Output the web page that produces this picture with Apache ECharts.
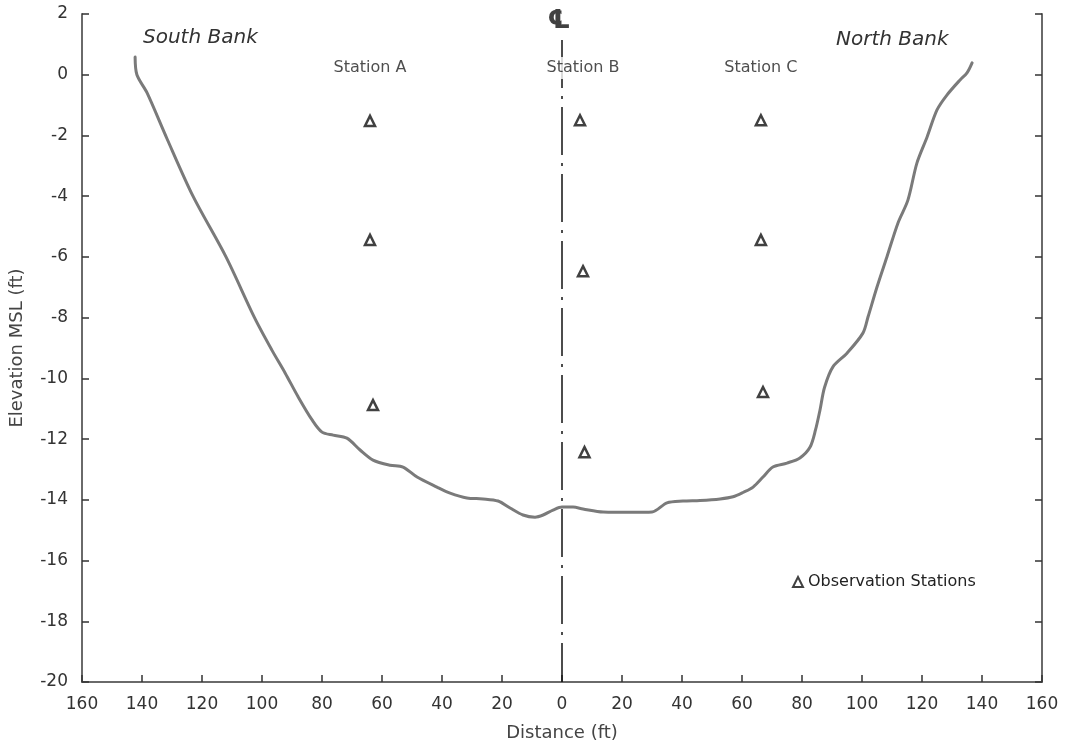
<!DOCTYPE html>
<html>
<head>
<meta charset="utf-8">
<script src="https://cdn.jsdelivr.net/npm/echarts@6/dist/echarts.min.js"></script>
<style>
html,body{margin:0;padding:0;background:#fff;}
#chart{width:1065px;height:749px;}
</style>
</head>
<body>
<div id="chart"></div>
<script>
// Channel cross-section profile (distance: negative = south of centerline)
const profileX = [-142.3,-141.7,-138.3,-131.7,-123,-112,-102.5,-96.7,-92.3,-88,-83.3,-80,-76.3,-71.7,-67.3,-63,-57.3,-53,-48.3,-41.7,-37.3,-31.7,-26.3,-21.3,-17.3,-13,-9,-6.3,-3,0,3.7,7,13.7,23.7,30,35,40.3,46,52.7,57,60.5,63.7,67,70.3,75,79.3,82.7,84.5,86,87.5,90.3,95,100.3,102,105,108.3,112,115.3,118.3,121.7,125,128.3,132.7,135,136.7];
const profileY = [0.58,0.0,-0.6,-2.1,-4.0,-6.0,-8.0,-9.07,-9.82,-10.6,-11.37,-11.77,-11.87,-11.97,-12.36,-12.69,-12.86,-12.92,-13.25,-13.58,-13.78,-13.94,-13.97,-14.04,-14.27,-14.5,-14.57,-14.5,-14.34,-14.24,-14.24,-14.3,-14.4,-14.41,-14.4,-14.1,-14.04,-14.02,-13.97,-13.9,-13.75,-13.58,-13.25,-12.92,-12.79,-12.62,-12.26,-11.7,-11.04,-10.3,-9.62,-9.17,-8.51,-7.98,-6.99,-6.0,-4.88,-4.13,-2.91,-2.05,-1.16,-0.67,-0.17,0.06,0.39];

// Observation stations
const stationNames = ['Station A','Station B','Station C'];
const stationLabelX = [-64, 7, 66.3];
const stationLabelY = [0.22, 0.22, 0.22];
const obsX = [-64,-64,-63, 6,7,7.5, 66.3,66.3,67];
const obsY = [-1.52,-5.44,-10.88, -1.5,-6.47,-12.43, -1.5,-5.44,-10.45];

// Centerline
const centerX = [0, 0];
const centerY = [1.14, -20];

const xTicks = {min:-160, max:160, interval:20};
const yTicks = {min:-20, max:2, interval:2};

const chart = echarts.init(document.getElementById('chart'), null, {renderer:'canvas'});
const FONT = 'DejaVu Sans';
const axisCol = '#6a6a6a';

const option = {
  backgroundColor:'#ffffff',
  animation:false,
  grid:{left:81, right:23, top:14, bottom:67, containLabel:false},
  legend:{
    data:['Observation Stations'],
    left:787, top:569,
    icon:'triangle',
    itemWidth:10, itemHeight:10, itemGap:10,
    textStyle:{fontFamily:FONT, fontSize:16, color:'#222'}
  },
  xAxis:{
    type:'value', min:xTicks.min, max:xTicks.max, interval:xTicks.interval,
    name:'Distance (ft)', nameLocation:'middle', nameGap:42,
    nameTextStyle:{fontFamily:FONT, fontSize:18, color:'#444'},
    axisLine:{show:true, onZero:false, lineStyle:{color:axisCol, width:2}},
    axisTick:{show:true, inside:true, length:7, lineStyle:{color:'#333', width:1.5}},
    axisLabel:{fontFamily:FONT, fontSize:17, color:'#333', margin:14,
      formatter:v=>String(Math.abs(v))},
    splitLine:{show:false}
  },
  yAxis:[{
    type:'value', min:yTicks.min, max:yTicks.max, interval:yTicks.interval,
    name:'Elevation MSL (ft)', nameLocation:'middle', nameGap:56, nameRotate:90,
    nameTextStyle:{fontFamily:FONT, fontSize:18, color:'#444'},
    axisLine:{show:true, onZero:false, lineStyle:{color:axisCol, width:2}},
    axisTick:{show:true, inside:true, length:7, lineStyle:{color:'#333', width:1.5}},
    axisLabel:{fontFamily:FONT, fontSize:17, color:'#333', margin:14},
    splitLine:{show:false}
  },{
    type:'value', position:'right', min:yTicks.min, max:yTicks.max, interval:yTicks.interval,
    axisLine:{show:true, onZero:false, lineStyle:{color:axisCol, width:2}},
    axisTick:{show:true, inside:true, length:7, lineStyle:{color:'#333', width:1.5}},
    axisLabel:{show:false},
    splitLine:{show:false}
  }],
  series:[
    {
      name:'Centerline', type:'line', silent:true, z:1,
      data:centerX.map((x,i)=>[x, centerY[i]]),
      symbol:'none',
      lineStyle:{color:'#111', width:1.5, type:[48,8,3,8]}
    },
    {
      name:'Profile', type:'line', silent:true, z:3,
      data:profileX.map((x,i)=>[x, profileY[i]]),
      smooth:0.3, symbol:'none',
      lineStyle:{color:'#7a7a7a', width:3, cap:'round', join:'round'}
    },
    {
      name:'Observation Stations', type:'scatter', z:5,
      data:obsX.map((x,i)=>[x, obsY[i]]),
      symbol:'triangle', symbolSize:10,
      itemStyle:{color:'#ffffff', borderColor:'#111', borderWidth:2.5}
    },
    {
      name:'Station labels', type:'scatter', z:6, silent:true,
      data:stationLabelX.map((x,i)=>({value:[x, stationLabelY[i]], name:stationNames[i]})),
      symbolSize:0,
      label:{show:true, position:'inside', formatter:p=>p.name,
        fontFamily:FONT, fontSize:16, color:'#222',
        backgroundColor:'#ffffff', padding:[3,2]}
    },
    {
      name:'CL', type:'scatter', z:6, silent:true,
      data:[{value:[-1, 1.75], name:'\u2104'}],
      symbolSize:0,
      label:{show:true, position:'inside', formatter:p=>p.name,
        fontFamily:FONT, fontSize:26, fontWeight:'bold', color:'#111'}
    }
  ],
  graphic:[
    {type:'text', left:143, top:28, style:{text:'South Bank', font:'italic 20px "DejaVu Sans"', fill:'#333'}},
    {type:'text', left:836, top:30, style:{text:'North Bank', font:'italic 20px "DejaVu Sans"', fill:'#333'}}
  ]
};
chart.setOption(option);
</script>
</body>
</html>
